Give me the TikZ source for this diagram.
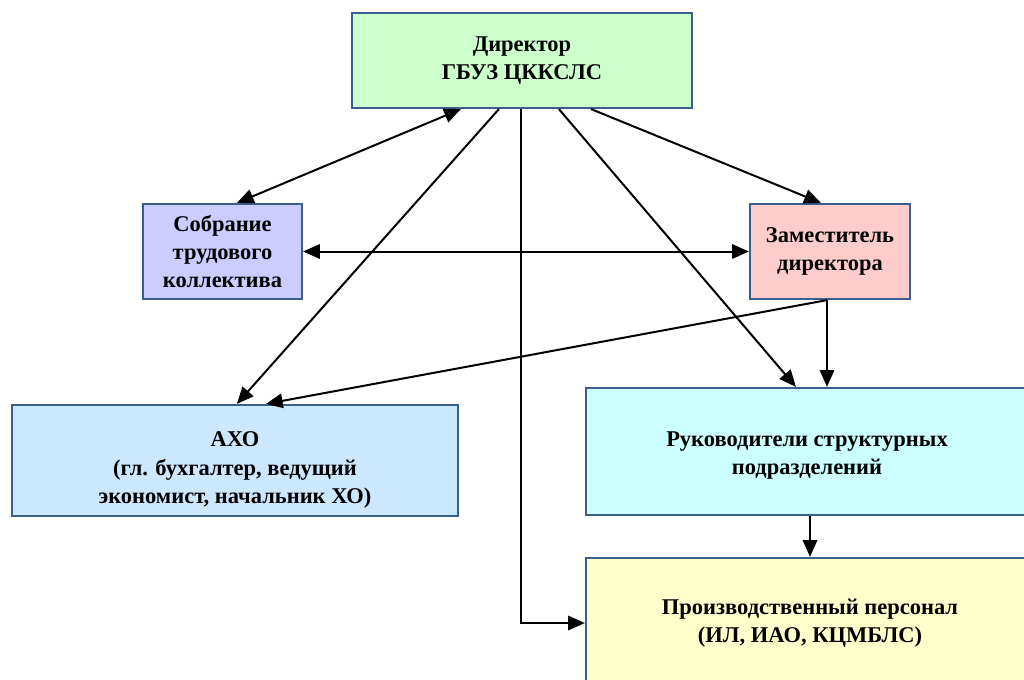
\documentclass[tikz,border=0pt]{standalone}
\usepackage{fontspec}
\setmainfont{Liberation Serif}
\usetikzlibrary{arrows.meta}

\definecolor{edge}{HTML}{3B5E8C}

\begin{document}
\begin{tikzpicture}[x=0.25mm,y=-0.25mm,
    box/.style={draw=edge,line width=0.55mm,align=center,font=\bfseries\fontsize{16}{20}\selectfont,inner sep=2pt},
    link/.style={line width=0.5mm,>={Triangle[length=4.2mm,width=3.6mm]}}]
    \useasboundingbox (0,0) rectangle (1024,679);
    \clip (0,0) rectangle (1024,679);
    \node[box,fill={rgb,255:red,204;green,255;blue,204},minimum width=85mm,minimum height=23.75mm] (dir) at (522,60.5) {Директор\\ГБУЗ ЦККСЛС};
    \node[box,fill={rgb,255:red,204;green,204;blue,255},minimum width=39.75mm,minimum height=23.75mm] (sob) at (222.5,251.5) {Собрание\\трудового\\коллектива};
    \node[box,fill={rgb,255:red,255;green,204;blue,204},minimum width=40mm,minimum height=23.75mm] (zam) at (830,251.5) {Заместитель\\директора};
    \node[box,fill={rgb,255:red,204;green,232;blue,255},minimum width=111.5mm,minimum height=27.75mm] (axo) at (235,460.5) {\rule{0pt}{8.5mm}АХО\\(гл. бухгалтер, ведущий\\экономист, начальник ХО)};
    \node[box,fill={rgb,255:red,204;green,255;blue,255},minimum width=110.5mm,minimum height=31.75mm] (ruk) at (807,451.5) {\rule{0pt}{5.5mm}Руководители структурных\\подразделений};
    \node[box,fill={rgb,255:red,255;green,255;blue,204},minimum width=112mm,minimum height=32.5mm] (prod) at (810,623) {Производственный персонал\\(ИЛ, ИАО, КЦМБЛС)};
    % links
    \draw[link,<->] ([xshift=27.5mm]dir.south west) -- ([xshift=23.75mm]sob.north west);
    \draw[link,->] ([xshift=-25.5mm]dir.south east) -- ([xshift=18mm]zam.north west);
    \draw[link,<->] (sob.east) -- (zam.west);
    \draw[link,->] ([xshift=37mm]dir.south west) -- ([xshift=56.5mm]axo.north west);
    \draw[link,->] ([xshift=-0.75mm]zam.south) -- ([xshift=63.75mm]axo.north west);
    \draw[link,->] ([xshift=52mm]dir.south west) -- ([xshift=52.75mm]ruk.north west);
    \draw[link,->] ([xshift=-0.75mm]zam.south) -- ([xshift=-0.75mm]zam.south |- ruk.north);
    \draw[link,->] (prod.north |- ruk.south) -- (prod.north);
    \draw[link,->] ([xshift=42.5mm]dir.south west) |- (prod.west);
\end{tikzpicture}
\end{document}
